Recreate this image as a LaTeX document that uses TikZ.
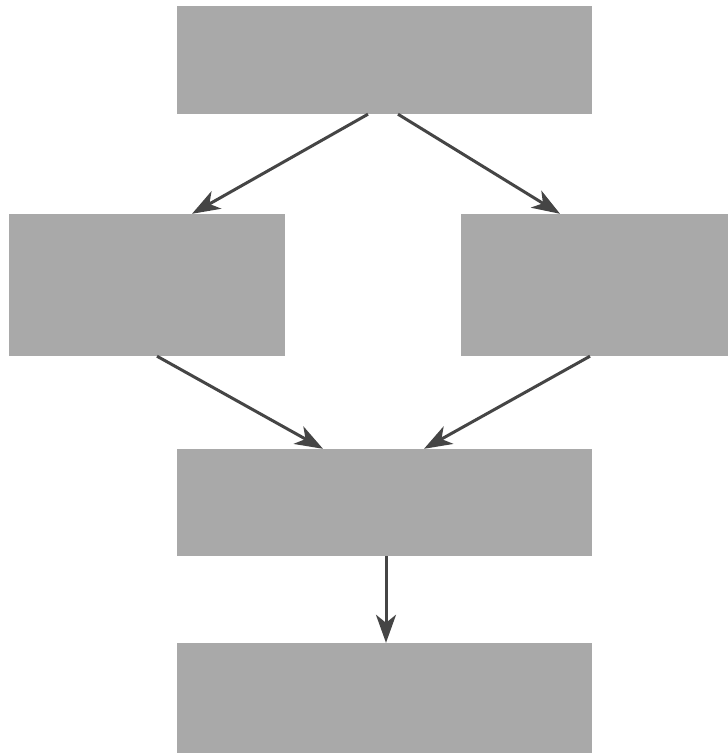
\documentclass[tikz,border=0pt]{standalone}
\usetikzlibrary{arrows.meta,calc}
\definecolor{boxgray}{HTML}{A9A9A9}
\definecolor{arrowgray}{HTML}{454545}
\tikzset{
  x=1pt,y=1pt,
  graybox/.style={draw=none,fill=boxgray,rectangle,inner sep=0pt},
  link/.style={draw=arrowgray,line width=3pt,-{Stealth[length=28pt,width=20pt,inset=8pt]}}
}
\begin{document}
\begin{tikzpicture}
\useasboundingbox (0,0) rectangle (728,753);
\node[graybox,minimum width=415pt,minimum height=108pt] (top) at (384.5,693) {};
\node[graybox,minimum width=276pt,minimum height=142pt] (left) at (147,468) {};
\node[graybox,minimum width=267pt,minimum height=142pt] (right) at (594.5,468) {};
\node[graybox,minimum width=415pt,minimum height=107pt] (mid) at (384.5,250.5) {};
\node[graybox,minimum width=415pt,minimum height=110pt] (bot) at (384.5,55) {};
\coordinate (t1) at ($(top.south)+(-16.5,0)$);
\coordinate (t2) at ($(top.south)+(13.5,0)$);
\coordinate (l1) at ($(left.north)+(45,0)$);
\coordinate (l2) at ($(left.south)+(10,0)$);
\coordinate (r1) at ($(right.north)+(-34.5,0)$);
\coordinate (r2) at ($(right.south)+(-4.5,0)$);
\coordinate (m1) at ($(mid.north)+(-61.5,0)$);
\coordinate (m2) at ($(mid.north)+(39.5,0)$);
\coordinate (m3) at ($(mid.south)+(1.5,0)$);
\coordinate (b1) at ($(bot.north)+(1.5,0)$);
\draw[link] (t1) -- (l1);
\draw[link] (t2) -- (r1);
\draw[link] (l2) -- (m1);
\draw[link] (r2) -- (m2);
\draw[link] (m3) -- (b1);
\end{tikzpicture}
\end{document}
